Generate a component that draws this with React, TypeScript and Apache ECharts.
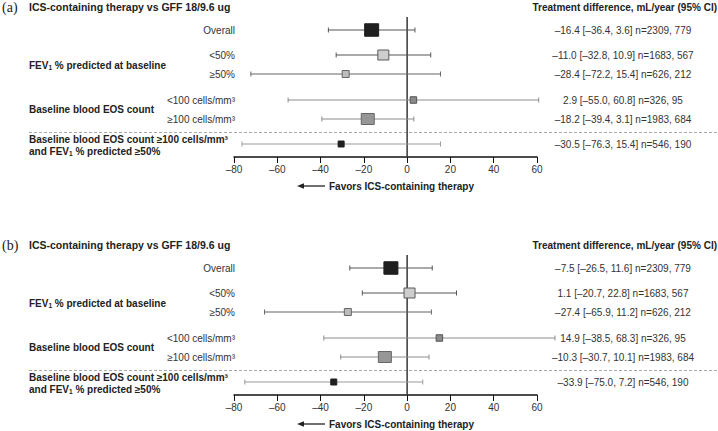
import { useEffect, useRef } from 'react';
import * as echarts from 'echarts';

// ---------- data ----------
const subgroupLabels = ['Overall', '<50%', '≥50%', '<100 cells/mm³', '≥100 cells/mm³', ''];
const panelTags = ['(a)', '(b)'];
const titleText = 'ICS-containing therapy vs GFF 18/9.6 ug';
const headerText = 'Treatment difference, mL/year (95% CI)';
const favorsText = 'Favors ICS-containing therapy';
const xTicks = [-80, -60, -40, -20, 0, 20, 40, 60];

const meanA = [-16.4, -11.0, -28.4, 2.9, -18.2, -30.5];
const lowA = [-36.4, -32.8, -72.2, -55.0, -39.4, -76.3];
const highA = [3.6, 10.9, 15.4, 60.8, 3.1, 15.4];
const nA = ['2309, 779', '1683, 567', '626, 212', '326, 95', '1983, 684', '546, 190'];

const meanB = [-7.5, 1.1, -27.4, 14.9, -10.3, -33.9];
const lowB = [-26.5, -20.7, -65.9, -38.5, -30.7, -75.0];
const highB = [11.6, 22.8, 11.2, 68.3, 10.1, 7.2];
const nB = ['2309, 779', '1683, 567', '626, 212', '326, 95', '1983, 684', '546, 190'];

// ---------- layout / style ----------
const FONT = "'Liberation Sans', Arial, Helvetica, sans-serif";
const SERIF = "'Liberation Serif', 'Times New Roman', serif";
const GRID_LEFT = 234;
const GRID_RIGHT = 181;
const GRID_H = 140;
const PANEL_TOP = [17, 255];
const ROW_POS = [13, 38, 57, 83, 102, 127];
const RIGHT_COL_X = 623;
const MARKER_W = [14, 11, 7, 6.5, 13, 6];
const MARKER_H = [12.5, 10, 7, 6.5, 11, 6];
const MARKER_FILL = ['#1f1f1f', '#cdcdcd', '#bcbcbc', '#8a8a8a', '#969696', '#1f1f1f'];
const MARKER_STROKE = ['#1f1f1f', '#5a5a5a', '#666666', '#555555', '#666666', '#1f1f1f'];
const WHISKER = ['#555555', '#555555', '#666666', '#8c8c8c', '#8c8c8c', '#999999'];

const fmt = (v: number) => v.toFixed(1).replace('-', '–');

function makeSeries(p: number, mean: number[], low: number[], high: number[], ns: string[]) {
  const data = mean.map((m, i) => [m, ROW_POS[i], low[i], high[i]]);
  const zero = {
    type: 'custom',
    xAxisIndex: p,
    yAxisIndex: p,
    z: 1,
    silent: true,
    data: [[0, 0]],
    encode: { x: 0, y: 1 },
    renderItem: (_params: any, api: any) => {
      const top = api.coord([0, 0]);
      const bot = api.coord([0, GRID_H]);
      return {
        type: 'line',
        shape: { x1: top[0], y1: top[1], x2: bot[0], y2: bot[1] },
        style: { stroke: '#444', lineWidth: 1.6 },
      };
    },
  };
  const forest = {
    type: 'custom',
    xAxisIndex: p,
    yAxisIndex: p,
    z: 2,
    silent: true,
    clip: false,
    data,
    encode: { x: 0, y: 1 },
    renderItem: (params: any, api: any) => {
      const i = params.dataIndex;
      const y = api.coord([0, api.value(1)])[1];
      const xm = api.coord([api.value(0), 0])[0];
      const xl = api.coord([api.value(2), 0])[0];
      const xh = api.coord([api.value(3), 0])[0];
      const w = MARKER_W[i];
      const h = MARKER_H[i];
      const wc = WHISKER[i];
      const children: any[] = [
        { type: 'line', shape: { x1: xl, y1: y, x2: xh, y2: y }, style: { stroke: wc, lineWidth: 1 } },
        { type: 'line', shape: { x1: xl, y1: y - 2.5, x2: xl, y2: y + 2.5 }, style: { stroke: wc, lineWidth: 1 } },
        { type: 'line', shape: { x1: xh, y1: y - 2.5, x2: xh, y2: y + 2.5 }, style: { stroke: wc, lineWidth: 1 } },
        {
          type: 'rect',
          shape: { x: xm - w / 2, y: y - h / 2, width: w, height: h },
          style: { fill: MARKER_FILL[i], stroke: MARKER_STROKE[i], lineWidth: 1 },
        },
        {
          type: 'text',
          x: RIGHT_COL_X,
          y,
          style: {
            text: `${fmt(mean[i])} [${fmt(low[i])}, ${fmt(high[i])}] n=${ns[i]}`,
            fill: '#333',
            font: `10px ${FONT}`,
            align: 'center',
            verticalAlign: 'middle',
            textAlign: 'center',
            textVerticalAlign: 'middle',
          },
        },
      ];
      if (subgroupLabels[i]) {
        children.push({
          type: 'text',
          x: GRID_LEFT + 1,
          y,
          style: {
            text: subgroupLabels[i],
            fill: '#333',
            font: `10px ${FONT}`,
            align: 'right',
            verticalAlign: 'middle',
            textAlign: 'right',
            textVerticalAlign: 'middle',
          },
        });
      }
      return { type: 'group', children };
    },
  };
  return [zero, forest];
}

function txt(x: number, y: number, text: string, opts: any = {}) {
  const align = opts.align || 'left';
  return {
    type: 'text',
    x,
    y,
    silent: true,
    style: {
      text,
      fill: opts.fill || '#222',
      font: opts.font || `bold 10px ${FONT}`,
      align,
      verticalAlign: 'middle',
      textAlign: align,
      textVerticalAlign: 'middle',
      rich: opts.rich,
    },
  };
}

const richFev = {
  b: { fontFamily: FONT, fontWeight: 'bold', fontSize: 10, lineHeight: 12, verticalAlign: 'middle', fill: '#222', color: '#222' },
  s: { fontFamily: FONT, fontWeight: 'bold', fontSize: 6.5, lineHeight: 6, verticalAlign: 'bottom', fill: '#222', color: '#222' },
};

function panelGraphics(p: number) {
  const oy = PANEL_TOP[p] - PANEL_TOP[0];
  const els: any[] = [];
  els.push(txt(2, 7 + oy, panelTags[p], { font: `14px ${SERIF}`, fill: '#222' }));
  els.push(txt(29, 7 + oy, titleText, { font: `bold 10.5px ${FONT}` }));
  els.push(txt(717, 7 + oy, headerText, { align: 'right' }));
  els.push(txt(29, 65 + oy, '{b|FEV}{s|1}{b| % predicted at baseline}', { rich: richFev }));
  els.push(txt(29, 109 + oy, 'Baseline blood EOS count'));
  els.push(txt(29, 139 + oy, 'Baseline blood EOS count ≥100 cells/mm³'));
  els.push(txt(29, 151 + oy, '{b|and FEV}{s|1}{b| % predicted ≥50%}', { rich: richFev }));
  els.push({
    type: 'line',
    silent: true,
    shape: { x1: 29, y1: 132.5 + oy, x2: 718, y2: 132.5 + oy },
    style: { stroke: '#aaa', lineWidth: 1, lineDash: [3, 2] },
  });
  els.push({
    type: 'line',
    silent: true,
    shape: { x1: 302, y1: 186 + oy, x2: 325, y2: 186 + oy },
    style: { stroke: '#222', lineWidth: 1.3 },
  });
  els.push({
    type: 'polygon',
    silent: true,
    shape: { points: [[297, 186 + oy], [304, 183.3 + oy], [304, 188.7 + oy]] },
    style: { fill: '#222' },
  });
  els.push(txt(329, 186 + oy, favorsText));
  return els;
}

export default function App() {
  const ref = useRef<HTMLDivElement>(null);
  useEffect(() => {
    if (!ref.current) return;
    const chart = echarts.init(ref.current, undefined, { renderer: 'svg' });
    const xAxisBase = (p: number) => ({
      type: 'value',
      gridIndex: p,
      min: xTicks[0],
      max: xTicks[xTicks.length - 1],
      interval: 20,
      axisLine: { show: true, onZero: false, lineStyle: { color: '#111', width: 1.5 } },
      axisTick: { show: true, length: 6, lineStyle: { color: '#111', width: 1 } },
      axisLabel: {
        margin: 7,
        fontSize: 10,
        fontFamily: FONT,
        color: '#333',
        formatter: (v: number) => String(v).replace('-', '–'),
      },
      splitLine: { show: false },
    });
    const yAxisBase = (p: number) => ({
      type: 'value',
      gridIndex: p,
      min: 0,
      max: GRID_H,
      inverse: true,
      show: false,
    });
    chart.setOption({
      animation: false,
      backgroundColor: '#fff',
      grid: PANEL_TOP.map((t) => ({ left: GRID_LEFT, right: GRID_RIGHT, top: t, height: GRID_H })),
      xAxis: [xAxisBase(0), xAxisBase(1)],
      yAxis: [yAxisBase(0), yAxisBase(1)],
      series: [
        ...makeSeries(0, meanA, lowA, highA, nA),
        ...makeSeries(1, meanB, lowB, highB, nB),
      ],
      graphic: [...panelGraphics(0), ...panelGraphics(1)],
    });
    return () => chart.dispose();
  }, []);
  return (
    <div
      ref={ref}
      style={{ position: 'absolute', left: 0, top: 0, width: 718, height: 431, background: '#fff' }}
    />
  );
}
